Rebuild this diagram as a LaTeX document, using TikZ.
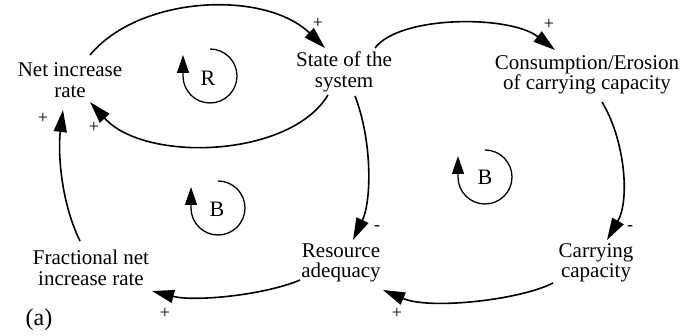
\documentclass[tikz,border=0pt]{standalone}
\usepackage{fontspec}
\setmainfont{Liberation Serif}
\usetikzlibrary{arrows.meta}
\tikzset{
  lbl/.style={align=center, inner sep=0pt, font=\fontsize{21}{20.5}\selectfont},
  sgn/.style={inner sep=0pt, font=\fontsize{18}{18}\selectfont},
  link/.style={line width=1.6pt, -{Triangle[length=22pt,width=13pt]}},
  loopmark/.style={line width=1.3pt, -{Triangle[length=18pt,width=12pt]}},
  looplbl/.style={inner sep=0pt, font=\fontsize{22}{22}\selectfont}
}
\begin{document}
\begin{tikzpicture}[x=1pt,y=-1pt]
\useasboundingbox (0,0) rectangle (692,336);
% variables
\node[lbl] (netinc) at (70,80) {Net increase\\rate};
\node[lbl] (state) at (344,72) {State of the\\system};
\node[lbl] (cons) at (587,75) {Consumption/Erosion\\of carrying capacity};
\node[lbl] (resource) at (341,263) {Resource\\adequacy};
\node[lbl] (carrying) at (596,263) {Carrying\\capacity};
\node[lbl] (fractional) at (91,268) {Fractional net\\increase rate};
\node[inner sep=0pt, font=\fontsize{24}{24}\selectfont] (tag) at (39,320) {(a)};
% links
\draw[link] ([shift={(20,-25)}]netinc.center) .. controls (140,-5) and (265,-10) .. ([shift={(-19,-24)}]state.center);
\draw[link] ([shift={(-16,23)}]state.center) .. controls (290,158) and (145,163) .. ([shift={(20,22)}]netinc.center);
\draw[link] ([shift={(31,-24)}]state.center) .. controls (400,15) and (510,15) .. ([shift={(-32,-25)}]cons.center);
\draw[link] ([shift={(15,27)}]cons.center) .. controls (625,140) and (630,200) .. ([shift={(11,-23)}]carrying.center);
\draw[link] ([shift={(11,24)}]state.center) .. controls (372,140) and (372,200) .. ([shift={(12,-23)}]resource.center);
\draw[link] ([shift={(-43,20)}]carrying.center) .. controls (520,300) and (430,310) .. ([shift={(42,27)}]resource.center);
\draw[link] ([shift={(-41,17)}]resource.center) .. controls (265,295) and (195,302) .. ([shift={(61,23)}]fractional.center);
\draw[link] ([shift={(-11,-27)}]fractional.center) .. controls (60,200) and (58,150) .. ([shift={(-7,30)}]netinc.center);
% polarity signs
\node[sgn] (s1) at (318,23) {+};
\node[sgn] (s2) at (94,127) {+};
\node[sgn] (s3) at (43,118) {+};
\node[sgn] (s4) at (549,24) {+};
\node[sgn] (s5) at (630,228) {-};
\node[sgn] (s6) at (377,228) {-};
\node[sgn] (s7) at (165,313) {+};
\node[sgn] (s8) at (397,313) {+};
% loop markers
\node[looplbl] (R) at (208,78) {R};
\draw[loopmark] (210,49) arc[start angle=-90,end angle=180,radius=27] -- ++(0,-21);
\node[looplbl] (B1) at (217,209) {B};
\draw[loopmark] (218,181) arc[start angle=-90,end angle=180,radius=27] -- ++(0,-21);
\node[looplbl] (B2) at (485,177) {B};
\draw[loopmark] (485,150) arc[start angle=-90,end angle=180,radius=27] -- ++(0,-21);
\end{tikzpicture}
\end{document}
